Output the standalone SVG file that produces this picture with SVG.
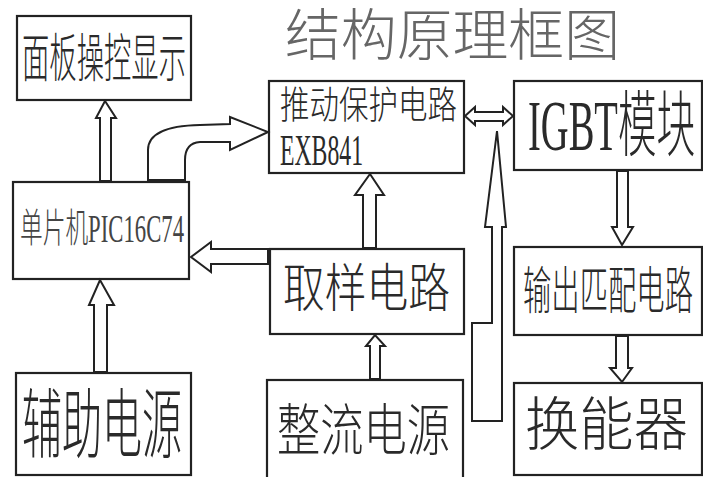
<svg xmlns="http://www.w3.org/2000/svg" width="703" height="477" viewBox="0 0 703 477">
<style>
.box{fill:#fff;stroke:#222;stroke-width:2.2}
.t{font-family:"Liberation Serif","Noto Sans CJK SC",serif;fill:#2a2a2a;font-weight:300;dominant-baseline:central}
.lat{font-family:"Liberation Serif","Noto Sans CJK SC",serif;fill:#2a2a2a}
.ar{fill:#fff;stroke:#222;stroke-width:2;stroke-linejoin:miter}
</style>
<rect width="703" height="477" fill="#fff"/>
<text class="t" x="285" y="36" font-size="56" style="fill:#666" textLength="335" lengthAdjust="spacingAndGlyphs">结构原理框图</text>

<g id="panel">
<rect class="box" x="17" y="16" width="174" height="84"/>
<text class="t" x="22" y="59" font-size="52" textLength="164" lengthAdjust="spacingAndGlyphs">面板操控显示</text>
</g>
<g id="mcu">
<rect class="box" x="13" y="182" width="176" height="97"/>
<text class="t" x="20" y="228" font-size="40" style="fill:#444" textLength="164" lengthAdjust="spacingAndGlyphs">单片机PIC16C74</text>
</g>
<g id="aux-power">
<rect class="box" x="16" y="373" width="175" height="102"/>
<text class="t" x="22" y="426" font-size="76" textLength="160" lengthAdjust="spacingAndGlyphs">辅助电源</text>
</g>
<g id="driver">
<rect class="box" x="269" y="81" width="195" height="92"/>
<text class="t" x="280" y="105" font-size="38" textLength="177" lengthAdjust="spacingAndGlyphs">推动保护电路</text>
<text class="lat" x="280" y="165" font-size="45" textLength="83" lengthAdjust="spacingAndGlyphs">EXB841</text>
</g>
<g id="igbt">
<rect class="box" x="514" y="81" width="188" height="89"/>
<text class="t" x="528" y="126" font-size="72" textLength="167" lengthAdjust="spacingAndGlyphs">IGBT模块</text>
</g>
<g id="sampling">
<rect class="box" x="270" y="249" width="194" height="85"/>
<text class="t" x="283" y="289" font-size="52" textLength="167" lengthAdjust="spacingAndGlyphs">取样电路</text>
</g>
<g id="rectifier">
<rect class="box" x="267" y="380" width="196" height="110"/>
<text class="t" x="277" y="431" font-size="56" textLength="173" lengthAdjust="spacingAndGlyphs">整流电源</text>
</g>
<g id="matching">
<rect class="box" x="514" y="247" width="188" height="88"/>
<text class="t" x="523" y="292" font-size="51" textLength="170" lengthAdjust="spacingAndGlyphs">输出匹配电路</text>
</g>
<g id="transducer">
<rect class="box" x="514" y="383" width="188" height="92"/>
<text class="t" x="525" y="425" font-size="58" textLength="163" lengthAdjust="spacingAndGlyphs">换能器</text>
</g>

<g id="connectors">
<!-- MCU -> panel -->
<path class="ar" d="M100,181 L100,118 L96,118 L105,101 L116,118 L111,118 L111,181 Z"/>
<!-- aux power -> MCU -->
<path class="ar" d="M94,372 L94,305 L89,305 L100,280 L114,305 L107,305 L107,372 Z"/>
<!-- MCU -> driver (curved) -->
<path class="ar" d="M148,180 L148,150 Q148,126 200,125 L230,124 L230,117 L268,132 L230,150 L230,142 L200,142 Q185,143 185,160 L185,180 Z"/>
<!-- sampling -> MCU -->
<path class="ar" d="M268,249 L211,249 L211,242 L191,257 L211,272 L211,264 L268,264 Z"/>
<!-- sampling -> driver -->
<path class="ar" d="M363,248 L363,195 L355,195 L370,174 L384,195 L376,195 L376,248 Z"/>
<!-- rectifier -> sampling -->
<path class="ar" d="M370,379 L370,346 L366,346 L375,335 L385,346 L380,346 L380,379 Z"/>
<!-- driver <-> IGBT -->
<path class="ar" d="M465,116 L475,107 L475,112 L503,112 L503,107 L513,116 L503,125 L503,121 L475,121 L475,125 Z"/>
<!-- rectifier feedback -> driver/IGBT link -->
<path class="ar" d="M497,131 L506,227 L502,227 L502,421 L472,421 L472,323 L492,323 L492,227 L485,227 Z"/>
<!-- IGBT -> matching -->
<path class="ar" d="M617,171 L617,227 L612,227 L622,245 L633,227 L628,227 L628,171 Z"/>
<!-- matching -> transducer -->
<path class="ar" d="M616,336 L616,368 L610,368 L622,382 L632,368 L628,368 L628,336 Z"/>
</g>
</svg>
